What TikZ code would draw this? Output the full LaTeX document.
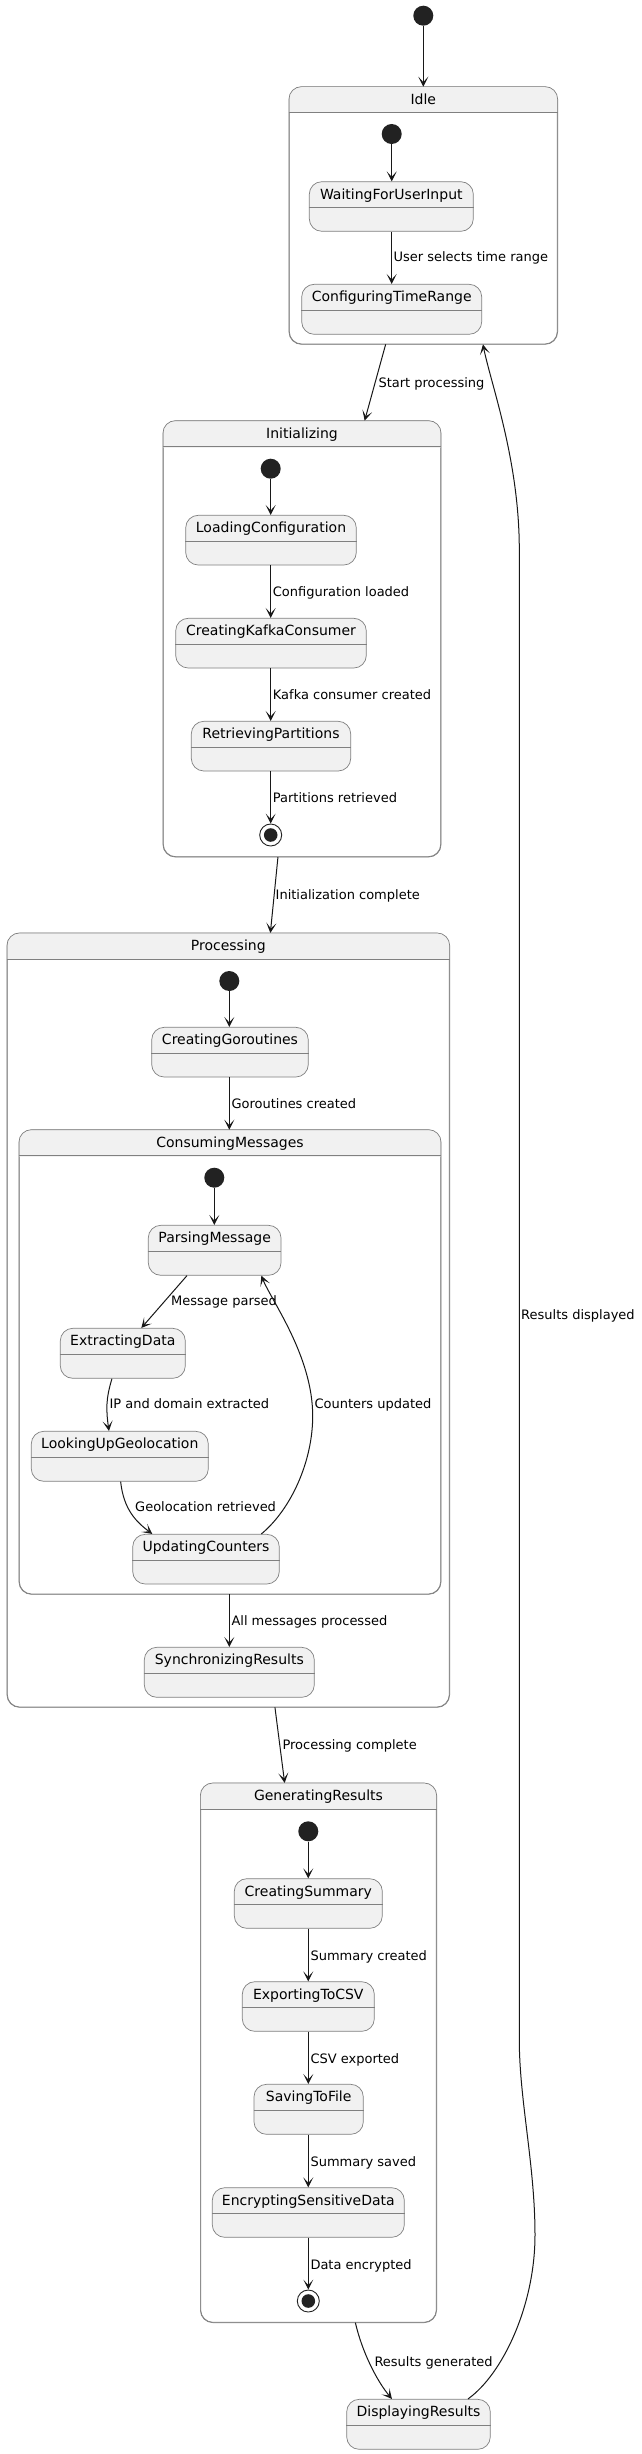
\documentclass[tikz,border=0pt]{standalone}
\usepackage{fontspec}
\setmainfont{DejaVu Sans}
\usetikzlibrary{arrows.meta,calc,fit}
\definecolor{stfill}{HTML}{F1F1F1}
\definecolor{boxgray}{HTML}{808080}
\definecolor{ink}{HTML}{181818}
\definecolor{dot}{HTML}{222222}
\tikzset{
 stbox/.style={draw=boxgray, fill=stfill, rounded corners=12.5pt, inner sep=0pt, line width=0.7pt},
 compbox/.style={draw=boxgray, fill=white, rounded corners=12.5pt, inner sep=0pt, line width=0.7pt},
 boxedge/.style={draw=boxgray, line width=0.7pt, rounded corners=12.5pt},
 nametxt/.style={font=\fontsize{14}{16}\selectfont, text=black, inner sep=0pt, anchor=base},
 lbl/.style={font=\fontsize{13}{15}\selectfont, anchor=base west, inner sep=0pt, text=black},
 arr/.style={draw=ink, line width=1pt, -{Stealth[length=10pt,width=10pt,inset=5.5pt]}},
 initst/.style={circle, fill=dot, minimum size=20pt, inner sep=0pt},
 finalst/.style={circle, draw=dot, fill=white, line width=0.9pt, minimum size=22pt, inner sep=0pt,
   path picture={\fill[dot] (path picture bounding box.center) circle (6.8pt);}},
 hline/.style={draw=boxgray, line width=0.7pt}
}
\newcommand\sstate[6]{%
 \node[stbox, fit={(#2,#3) (#4,#5)}] (#1) {};
 \draw[hline] ($(#1.north west)+(0,26)$) -- ($(#1.north east)+(0,26)$);
 \node[nametxt] at ($(#1.north)+(0,18)$) {#6};
}
\newcommand\compstate[6]{%
 \node[compbox, fit={(#2,#3) (#4,#5)}] (#1) {};
 \begin{scope}
  \clip (#2,#3) rectangle (#4,{#3+26});
  \fill[stfill, rounded corners=12.5pt] (#1.north west) rectangle (#1.south east);
 \end{scope}
 \draw[boxedge] (#1.north west) rectangle (#1.south east);
 \draw[hline] ($(#1.north west)+(0,26)$) -- ($(#1.north east)+(0,26)$);
 \node[nametxt] at ($(#1.north)+(0,18)$) {#6};
}
\newcommand\lab[3]{\node[lbl] at (#1,{#2+4.7}) {#3};}
\begin{document}
\begin{tikzpicture}[x=1pt,y=-1pt]
\useasboundingbox[fill=white] (0,0) rectangle (641,2454);
% Idle
\node[initst] (top) at (423.3,15.7) {};
\compstate{idle}{289.3}{87}{557.3}{344}{Idle}
\node[initst] (i0) at (391.7,134) {};
\sstate{wait}{309.3}{181.7}{473.3}{231.3}{WaitingForUserInput}
\sstate{conf}{301.7}{284.3}{481.7}{334.3}{ConfiguringTimeRange}
\draw[arr] (top) -- (idle.north);
\draw[arr] (i0) -- (wait.north -| i0);
\draw[arr] (wait.south -| i0) -- (conf.north -| i0);
\lab{393.3}{257}{User selects time range}
% Initializing
\compstate{initz}{163.3}{421}{440.7}{856.7}{Initializing}
\node[initst] (i1) at (270.7,468.7) {};
\sstate{load}{185.7}{515.3}{356.3}{565}{LoadingConfiguration}
\sstate{kafka}{175.7}{618.3}{366.3}{668}{CreatingKafkaConsumer}
\sstate{retr}{191.3}{721.3}{350.7}{771}{RetrievingPartitions}
\node[finalst] (f1) at (270.7,835) {};
\draw[arr] (i1) -- (load.north -| i1);
\draw[arr] (load.south -| i1) -- (kafka.north -| i1);
\draw[arr] (kafka.south -| i1) -- (retr.north -| i1);
\draw[arr] (retr.south -| i1) -- (f1);
\lab{272.7}{592}{Configuration loaded}
\lab{272.7}{695}{Kafka consumer created}
\lab{272.7}{797.7}{Partitions retrieved}
\draw[arr] ($(idle.south west)+(96.7,0)$) -- ($(initz.north west)+(201.7,0)$);
\lab{378.3}{382.7}{Start processing}
% Processing
\compstate{proc}{7.3}{933.3}{449.3}{1707}{Processing}
\node[initst] (i2) at (229.3,981) {};
\sstate{gor}{151.7}{1027.3}{308.3}{1077}{CreatingGoroutines}
\compstate{cons}{19.3}{1130}{440.7}{1594}{ConsumingMessages}
\node[initst] (i3) at (214.3,1177.7) {};
\sstate{parse}{148.3}{1225.3}{281}{1275.3}{ParsingMessage}
\sstate{ext}{60.3}{1328.3}{185.3}{1378.3}{ExtractingData}
\sstate{look}{31.3}{1431.3}{208.3}{1481.3}{LookingUpGeolocation}
\sstate{upd}{132.7}{1534.3}{279.3}{1584}{UpdatingCounters}
\sstate{sync}{144.3}{1647.3}{314.3}{1697.3}{SynchronizingResults}
\draw[arr] ($(initz.south west)+(115,0)$) -- ($(proc.north west)+(263.4,0)$);
\lab{275.5}{894.5}{Initialization complete}
\draw[arr] (i2) -- (gor.north -| i2);
\draw[arr] (gor.south -| i2) -- (cons.north -| i2);
\lab{231.3}{1104}{Goroutines created}
\draw[arr] (i3) -- (parse.north -| i3);
\draw[arr] ($(parse.south west)+(39,0)$) -- ($(ext.north west)+(81.4,0)$);
\lab{171}{1301}{Message parsed}
\draw[arr] ($(ext.south west)+(52,0)$) .. controls +(-6,20) and +(-3,-22) .. ($(look.north west)+(78,0)$);
\lab{109.3}{1404}{IP and domain extracted}
\draw[arr] ($(look.south west)+(89.7,0)$) .. controls +(3,28) and +(-16,-12) .. ($(upd.north west)+(20,0)$);
\lab{135}{1507}{Geolocation retrieved}
\coordinate (cu) at (312.7,1416);
\draw[arr] ($(upd.north west)+(129,0)$) .. controls +(30,-25) and +(0,45) .. (cu)
  .. controls +(0,-60) and +(10,25) .. ($(parse.south west)+(113.4,0)$);
\lab{314.3}{1404}{Counters updated}
\draw[arr] (cons.south -| sync) -- (sync.north);
\lab{231.3}{1620.7}{All messages processed}
% Generating
\compstate{gen}{200.7}{1783.3}{436.3}{2322.3}{GeneratingResults}
\node[initst] (i4) at (308.3,1831.3) {};
\sstate{summ}{234.3}{1878.7}{382.3}{1928.3}{CreatingSummary}
\sstate{csv}{242.3}{1981.7}{374.3}{2031.3}{ExportingToCSV}
\sstate{save}{254}{2084.3}{363.3}{2134.3}{SavingToFile}
\sstate{enc}{212.3}{2187.7}{404.3}{2237.3}{EncryptingSensitiveData}
\node[finalst] (f2) at (308.3,2301) {};
\sstate{disp}{346.7}{2399.3}{490.3}{2449.3}{DisplayingResults}
\draw[arr] ($(proc.south west)+(268,0)$) -- ($(gen.north west)+(84.3,0)$);
\lab{282.3}{1745}{Processing complete}
\draw[arr] (i4) -- (summ.north -| i4);
\draw[arr] (summ.south -| i4) -- (csv.north -| i4);
\draw[arr] (csv.south -| i4) -- (save.north -| i4);
\draw[arr] (save.south -| i4) -- (enc.north -| i4);
\draw[arr] (enc.south -| i4) -- (f2);
\lab{310.3}{1955.3}{Summary created}
\lab{310.3}{2058.3}{CSV exported}
\lab{310.3}{2161.7}{Summary saved}
\lab{310.3}{2264.7}{Data encrypted}
\draw[arr] ($(gen.south west)+(155,0)$) .. controls +(7,30) and +(-15,-18) .. ($(disp.north west)+(45.6,0)$);
\lab{374.3}{2361.7}{Results generated}
\coordinate (rd1) at (535,2235);
\coordinate (rd2) at (519.3,2040);
\coordinate (rd3) at (519.3,550);
\draw[arr] ($(disp.north west)+(121.6,0)$) .. controls +(35,-25) and +(0,70) .. (rd1)
  .. controls +(0,-70) and +(0,60) .. (rd2) -- (rd3)
  .. controls +(0,-90) and +(8,40) .. ($(idle.south west)+(194,0)$);
\lab{521}{1315}{Results displayed}
\end{tikzpicture}
\end{document}
